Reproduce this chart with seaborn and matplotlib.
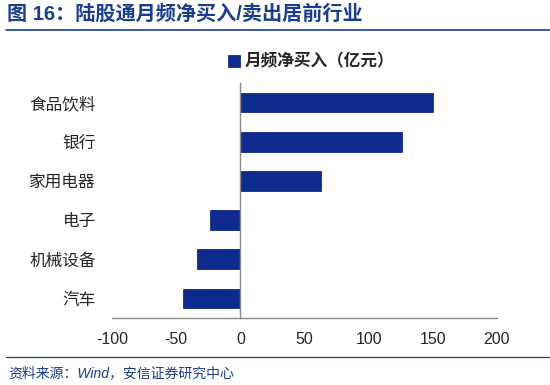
import numpy as np
import matplotlib
matplotlib.use("Agg")
import matplotlib.pyplot as plt
from matplotlib.lines import Line2D
import seaborn as sns

# data
industries = ['食品饮料', '银行', '家用电器', '电子', '机械设备', '汽车']
net_buy = [150, 126, 63, -24, -34, -45]
series_name = '月频净买入（亿元）'
x_ticks = [-100, -50, 0, 50, 100, 150, 200]

title_text = '图 16：陆股通月频净买入/卖出居前行业'
source_text = '资料来源：Wind，安信证券研究中心'

bar_color = '#0F2A8D'
blue = '#1B3D8F'
axis_gray = '#8C8C8C'

sns.set_style('white')
plt.rcParams['font.family'] = ['Liberation Sans', 'Noto Sans CJK SC', 'DejaVu Sans']

fig = plt.figure(figsize=(5.5, 3.85), dpi=100)
ax = fig.add_axes([0.2036, 0.174, 0.70, 0.6104])

sns.barplot(x=net_buy, y=industries, orient='h', color=bar_color,
            width=0.5, saturation=1, label=series_name, ax=ax,
            edgecolor=bar_color, linewidth=0.6)

ax.set_xlim(-100, 200)
ax.set_ylim(5.5, -0.5)
ax.set_xticks(x_ticks)
ax.set_xticklabels([str(t) for t in x_ticks], fontsize=11.5)
ax.set_xlabel('')
ax.set_ylabel('')

# y axis sits on zero, ticks between categories
for side in ['top', 'right']:
    ax.spines[side].set_visible(False)
ax.spines['left'].set_position(('data', 0))
for side in ['left', 'bottom']:
    ax.spines[side].set_color(axis_gray)
    ax.spines[side].set_linewidth(1.0)

ax.set_yticks(np.arange(-0.5, len(industries), 1), minor=True)
ax.tick_params(axis='y', which='major', length=0, pad=104, labelsize=12)
ax.tick_params(axis='y', which='minor', direction='in', length=4,
               color=axis_gray, width=1)
ax.tick_params(axis='x', direction='in', length=4, color=axis_gray,
               width=1, pad=10)
ax.grid(False)
ax.set_zorder(1)

leg = ax.legend(loc='center', bbox_to_anchor=(0.566, 0.84),
                bbox_transform=fig.transFigure, frameon=False,
                handlelength=0.7, handleheight=0.7, handletextpad=0.3,
                prop={'size': 12, 'weight': 'bold'})

# header and footer
fig.text(0.013, 0.962, title_text, color=blue, fontsize=14.5,
         fontweight='bold', va='center', ha='left')
fig.add_artist(Line2D([0.01, 1.0], [0.921, 0.921], color=blue, lw=1.2,
                      transform=fig.transFigure))
fig.add_artist(Line2D([0.01, 1.0], [0.073, 0.073], color=blue, lw=0.9,
                      transform=fig.transFigure))
fig.text(0.015, 0.031, source_text, color=blue, fontsize=10,
         style='italic', va='center', ha='left')

fig.savefig('out.png', dpi=100)
